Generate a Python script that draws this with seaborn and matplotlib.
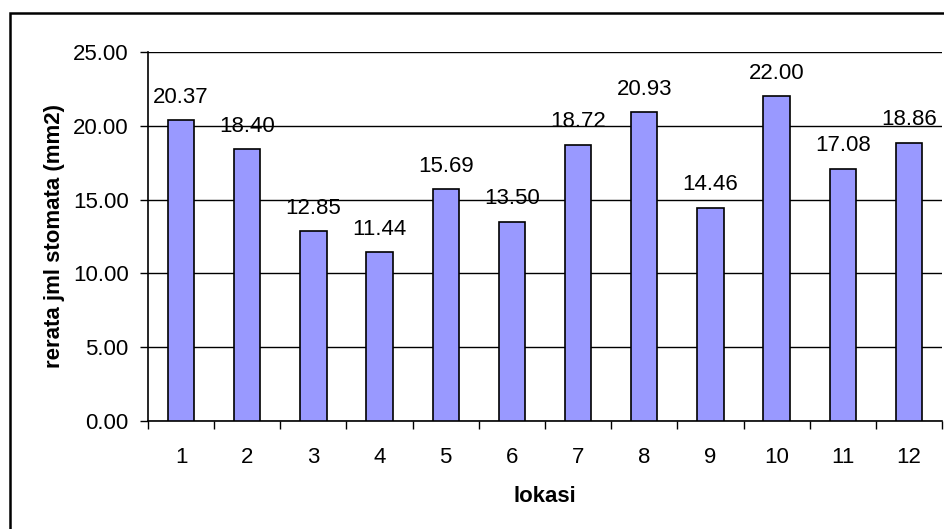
import matplotlib
matplotlib.use("Agg")
import matplotlib.pyplot as plt
import matplotlib.patches as mpatches
from matplotlib.ticker import FixedLocator, FormatStrFormatter
import seaborn as sns
import pandas as pd

# data
lokasi = ['1', '2', '3', '4', '5', '6', '7', '8', '9', '10', '11', '12']
rerata = [20.37, 18.40, 12.85, 11.44, 15.69, 13.50, 18.72, 20.93, 14.46, 22.00, 17.08, 18.86]
yticks = [0, 5, 10, 15, 20, 25]

sns.set_theme(style='white')
plt.rcParams['font.family'] = ['Liberation Sans', 'DejaVu Sans']
plt.rcParams['text.color'] = 'black'
plt.rcParams['axes.labelcolor'] = 'black'
plt.rcParams['xtick.color'] = 'black'
plt.rcParams['ytick.color'] = 'black'

fs = 16

df = pd.DataFrame({'lokasi': lokasi, 'rerata': rerata})

fig = plt.figure(figsize=(9.45, 5.29), dpi=100)
ax = fig.add_axes([148 / 945, 1 - 421 / 529, 794 / 945, 369 / 529])

sns.barplot(data=df, x='lokasi', y='rerata', order=lokasi, color='#9999FF',
            saturation=1, width=0.4, edgecolor='black', linewidth=1.2, ax=ax, zorder=3)

for c in ax.containers:
    ax.bar_label(c, fmt='%.2f', padding=9, fontsize=fs, zorder=5)

ax.set_ylim(0, 25)
ax.set_xlim(-0.5, len(lokasi) - 0.5)
ax.yaxis.set_major_locator(FixedLocator(yticks))
ax.yaxis.set_major_formatter(FormatStrFormatter('%.2f'))
ax.grid(axis='y', color='black', linewidth=1, zorder=0)
ax.set_axisbelow(True)

# category ticks sit between the bars
ax.set_xticks(range(len(lokasi)))
ax.set_xticklabels(lokasi)
ax.set_xticks([i - 0.5 for i in range(len(lokasi) + 1)], minor=True)
ax.tick_params(axis='x', which='major', length=0, pad=19, labelsize=fs)
ax.tick_params(axis='x', which='minor', length=6, width=1, direction='out', bottom=True)
ax.tick_params(axis='y', which='major', length=6, width=1, direction='out', left=True,
               pad=8, labelsize=fs)

for s in ['top', 'right']:
    ax.spines[s].set_visible(False)
for s in ['left', 'bottom']:
    ax.spines[s].set_color('black')
    ax.spines[s].set_linewidth(1.2)

ax.set_xlabel('lokasi', fontsize=fs, fontweight='bold')
ax.set_ylabel('rerata jml stomata (mm2)', fontsize=fs, fontweight='bold')
ax.xaxis.set_label_coords(0.5, -0.175)
ax.yaxis.set_label_coords(-0.105, 0.5)

# outer chart frame, cut off at the right and bottom like the reference
frame = mpatches.Rectangle((10 / 945, -0.1), 1.2, 1 - 13 / 529 + 0.1,
                           transform=fig.transFigure, fill=False,
                           edgecolor='black', linewidth=1.8)
fig.add_artist(frame)

fig.savefig('out.png', dpi=100)
